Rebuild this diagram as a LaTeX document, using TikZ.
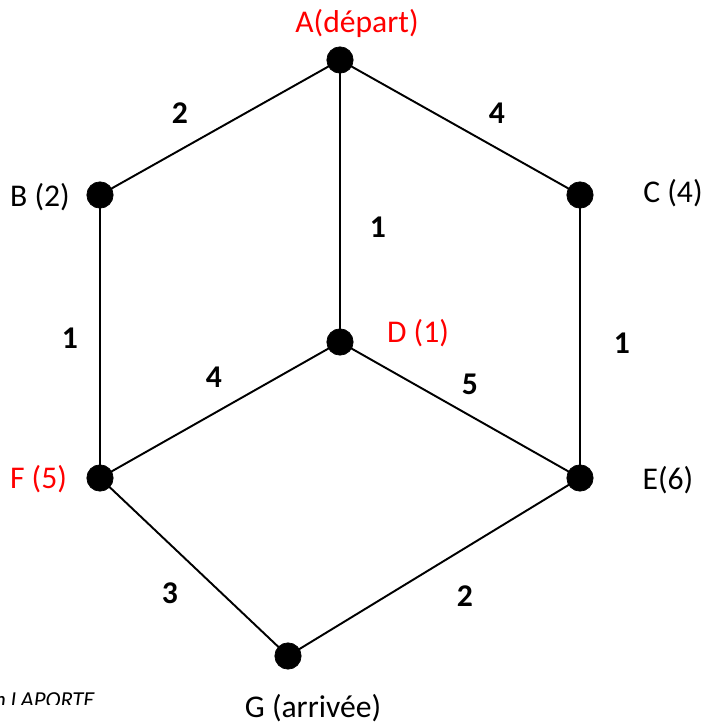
\documentclass[tikz,border=0pt]{standalone}
\usepackage{fontspec}
\setmainfont{Carlito}
\usepackage{tkz-euclide}
\definecolor{RouteClr}{RGB}{255,0,0}
\tikzset{vlabel/.style={font=\fontsize{18}{22}\selectfont},
  wlabel/.style={font=\fontsize{18}{22}\selectfont\bfseries}}

\begin{document}
\begin{tikzpicture}
\useasboundingbox (0,0) rectangle (14.26,14.48);
\tkzSetUpLine[line width=1.1pt,color=black]
\tkzSetUpPoint[fill=black,color=black]

\tkzDefPoints{6.8/13.28/A,2/10.58/B,11.6/10.58/C,6.8/7.64/D}
\tkzDefPoints{2/4.92/F,11.6/4.92/E,5.76/1.36/G}

\tkzDrawSegments(A,B A,C A,D B,F C,E D,F D,E F,G E,G)
\tkzDrawPoints[size=15pt](A,B,C,D,E,F,G)

% sommets
\node[vlabel,text=RouteClr] (labA) at (7.14,14.02) {A(départ)};
\node[vlabel] (labB) at (0.80,10.54) {B (2)};
\node[vlabel] (labC) at (13.46,10.62) {C (4)};
\node[vlabel,text=RouteClr] (labD) at (8.36,7.81) {D (1)};
\node[vlabel,text=RouteClr] (labF) at (0.77,4.90) {F (5)};
\node[vlabel] (labE) at (13.36,4.88) {E(6)};
\node[vlabel] (labG) at (6.26,0.31) {G (arrivée)};

% poids
\node[wlabel] (wAB) at (3.60,12.22) {2};
\node[wlabel] (wAC) at (9.94,12.22) {4};
\node[wlabel] (wAD) at (7.56,9.94) {1};
\node[wlabel] (wBF) at (1.40,7.72) {1};
\node[wlabel] (wCE) at (12.44,7.62) {1};
\node[wlabel] (wDF) at (4.28,6.94) {4};
\node[wlabel] (wDE) at (9.40,6.80) {5};
\node[wlabel] (wFG) at (3.40,2.62) {3};
\node[wlabel] (wEG) at (9.30,2.56) {2};

\begin{scope}
\clip (0,0.38) rectangle (4,1);
\node[font=\fontsize{13}{15}\selectfont\itshape,anchor=base east,inner sep=0pt] (credit) at (1.9,0.32) {n LAPORTE};
\end{scope}
\end{tikzpicture}
\end{document}
